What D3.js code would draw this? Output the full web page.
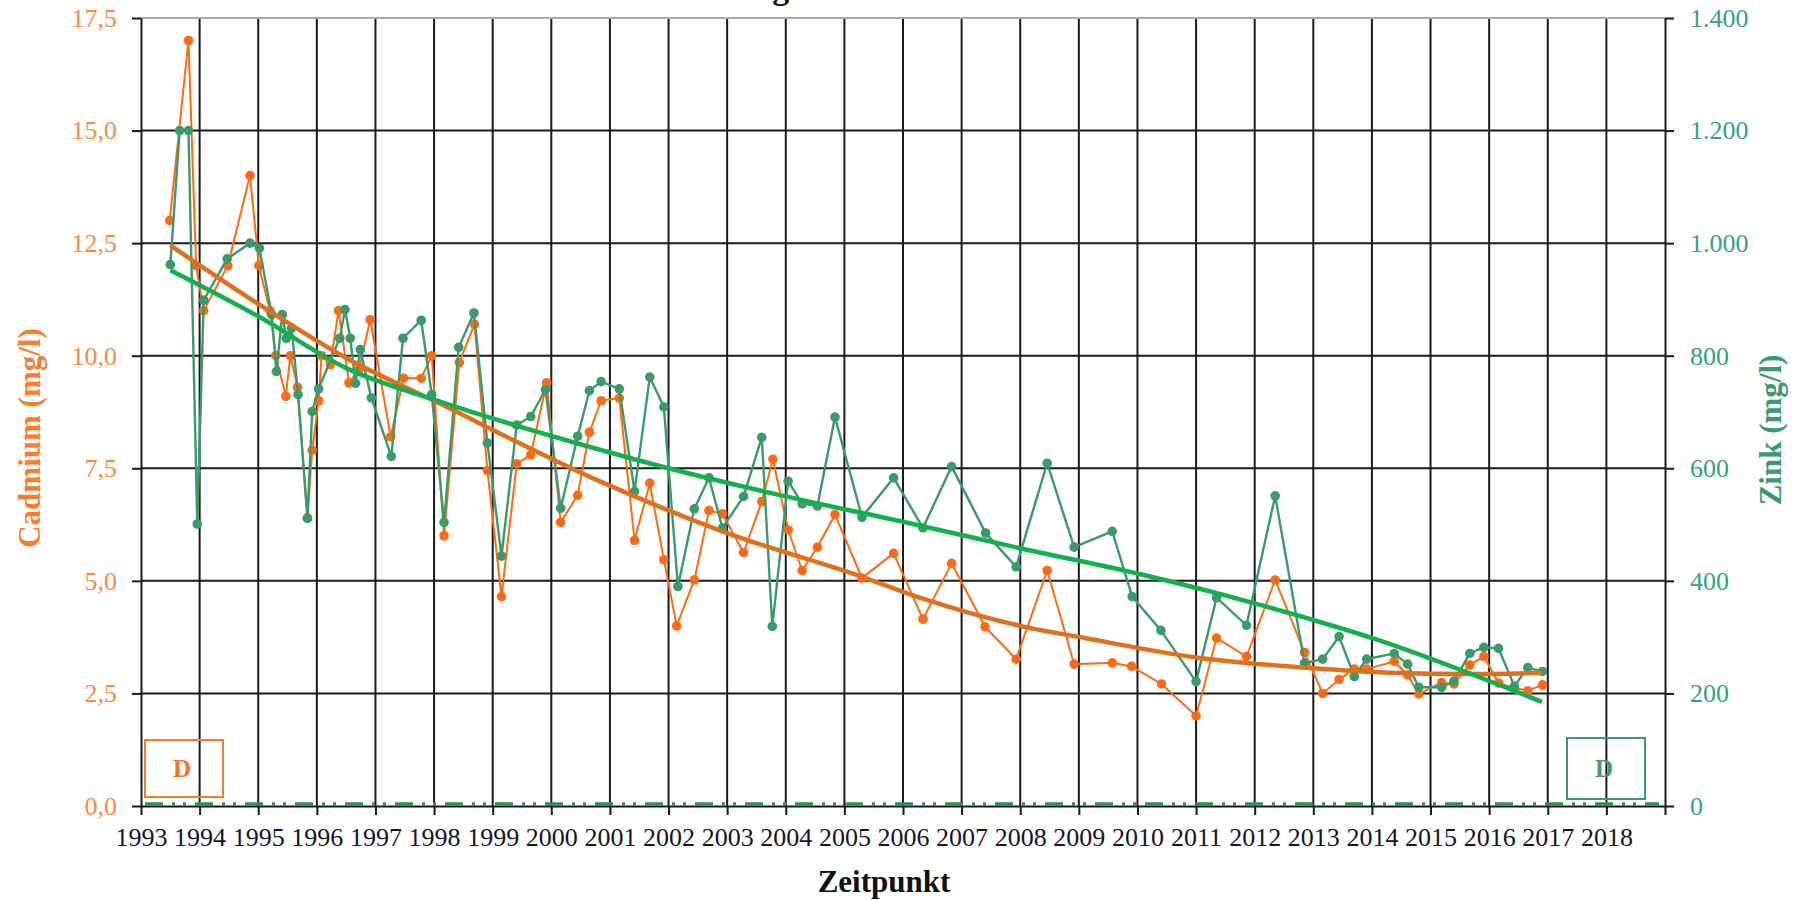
<!DOCTYPE html>
<html>
<head>
<meta charset="utf-8">
<title>Cadmium und Zink</title>
<style>
  body { margin: 0; background: #fff; }
  svg text { font-family: "Liberation Serif", "Times New Roman", serif; }
</style>
</head>
<body>
<div id="chart"></div>
<script src="https://d3js.org/d3.v7.min.js"></script>
<script>
// Cadmium (mg/l), Zeitpunkt als Dezimaljahr
var cdTime = [1993.49, 1993.81, 1993.94, 1994.07, 1994.48, 1994.86, 1995.01, 1995.20, 1995.30, 1995.47, 1995.55, 1995.67,
  1995.84, 1995.92, 1996.03, 1996.08, 1996.23, 1996.37, 1996.55, 1996.72, 1996.91, 1997.26, 1997.48, 1997.78, 1997.96,
  1998.17, 1998.43, 1998.69, 1998.91, 1999.15, 1999.41, 1999.65, 1999.92, 2000.16, 2000.45, 2000.65, 2000.85, 2001.16,
  2001.42, 2001.68, 2001.92, 2002.14, 2002.44, 2002.69, 2002.92, 2003.28, 2003.59, 2003.78, 2004.04, 2004.28, 2004.54,
  2004.84, 2005.30, 2005.84, 2006.34, 2006.83, 2007.40, 2007.93, 2008.46, 2008.92, 2009.57, 2009.90, 2010.41, 2011.00,
  2011.35, 2011.86, 2012.35, 2012.85, 2013.16, 2013.44, 2013.70, 2013.91, 2014.38, 2014.61, 2014.80, 2015.19, 2015.40,
  2015.67, 2015.91, 2016.16, 2016.43, 2016.66, 2016.91]
var cdValue = [13.0, 17.0, 12.0, 11.0, 12.0, 14.0, 12.0, 11.0, 10.0, 9.1, 10.0, 9.3,
  6.4, 7.9, 9.0, 10.0, 9.8, 11.0, 9.4, 9.7, 10.8, 8.2, 9.5, 9.5, 10.0,
  6.0, 9.85, 10.7, 7.45, 4.65, 7.6, 7.8, 9.4, 6.3, 6.9, 8.3, 9.0, 9.06,
  5.9, 7.17, 5.47, 4.0, 5.02, 6.56, 6.49, 5.63, 6.76, 7.7, 6.13, 5.23, 5.75,
  6.47, 5.06, 5.61, 4.15, 5.39, 3.98, 3.26, 5.23, 3.15, 3.18, 3.1, 2.71, 2.0,
  3.73, 3.32, 5.02, 3.41, 2.5, 2.81, 3.04, 3.04, 3.21, 2.91, 2.49, 2.74, 2.71,
  3.13, 3.32, 2.73, 2.62, 2.56, 2.69]

// Zink (mg/l)
var znTime = [1993.50, 1993.66, 1993.81, 1993.96, 1994.07, 1994.47, 1994.86, 1995.02, 1995.23, 1995.31, 1995.41, 1995.48,
  1995.57, 1995.68, 1995.84, 1995.92, 1996.03, 1996.39, 1996.48, 1996.57, 1996.66, 1996.74, 1996.93, 1997.27, 1997.47,
  1997.78, 1997.96, 1998.17, 1998.42, 1998.68, 1998.91, 1999.15, 1999.41, 1999.65, 1999.90, 2000.16, 2000.45, 2000.65,
  2000.85, 2001.16, 2001.42, 2001.68, 2001.92, 2002.16, 2002.44, 2002.69, 2002.92, 2003.28, 2003.59, 2003.77, 2004.04,
  2004.28, 2004.54, 2004.84, 2005.30, 2005.84, 2006.34, 2006.83, 2007.41, 2007.93, 2008.46, 2008.92, 2009.57, 2009.91,
  2010.40, 2011.00, 2011.35, 2011.86, 2012.35, 2012.85, 2013.16, 2013.44, 2013.70, 2013.91, 2014.38, 2014.61, 2014.80,
  2015.19, 2015.40, 2015.67, 2015.91, 2016.16, 2016.43, 2016.66, 2016.91]
var znValue = [962, 1200, 1200, 501, 899, 972, 1000, 991, 873, 772, 873, 831,
  849, 731, 511, 701, 741, 831, 882, 831, 751, 811, 725, 621, 831,
  863, 731, 504, 815, 876, 645, 444, 677, 692, 740, 529, 657, 738,
  754, 741, 559, 762, 709, 390, 528, 583, 494, 550, 655, 319, 577,
  537, 533, 691, 513, 583, 494, 603, 485, 425, 609, 460, 488, 372,
  312, 221, 370, 321, 551, 254, 261, 301, 230, 261, 271, 252, 211,
  211, 222, 271, 282, 280, 213, 246, 239]

// Trendlinien
var cdTrendTime = [1993.5, 1995.0, 1996.5, 1998.0, 2000.83, 2003.0, 2005.3, 2006.3, 2008.0, 2009.1, 2011.0, 2013.0, 2014.33, 2015.63, 2016.9]
var cdTrendValue = [12.45, 11.15, 9.95, 9.0, 7.21, 6.06, 5.09, 4.62, 4.0, 3.73, 3.30, 3.06, 2.96, 2.93, 2.96]
var znTrendTime = [1993.5, 1995.0, 1996.5, 1998.0, 2000.83, 2002.0, 2004.0, 2006.0, 2008.0, 2010.0, 2012.0, 2014.1, 2016.9]
var znTrendValue = [952, 870, 778, 722, 633, 600, 550, 505, 458, 413, 360, 295, 185]

var years = d3.range(1993, 2019)
var cdTicks = [0, 2.5, 5, 7.5, 10, 12.5, 15, 17.5]
var znTicks = [0, 200, 400, 600, 800, 1000, 1200, 1400]

var W = 1800, H = 900
var mLeft = 141, mRight = 1665, mTop = 18, mBottom = 806

var orange = "#ff6a13", orangeTrend = "#e0701c", orangeText = "#ff8a3d"
var green = "#3b9a6b", greenTrend = "#12b04e", greenText = "#36a088"

var de = d3.formatLocale({decimal: ",", thousands: ".", grouping: [3], currency: ["", " €"]})

var svg = d3.select("#chart").append("svg")
  .attr("width", W)
  .attr("height", H)

var x = d3.scaleLinear().domain([1993, 2019]).range([mLeft, mRight])
var yCd = d3.scaleLinear().domain([0, 17.5]).range([mBottom, mTop])
var yZn = d3.scaleLinear().domain([0, 1400]).range([mBottom, mTop])

// Titel (oben abgeschnitten, nur Unterlänge sichtbar)
svg.append("text")
  .attr("x", 604)
  .attr("y", -1.5)
  .style("font-size", "34px")
  .style("font-weight", "bold")
  .attr("fill", "#111")
  .text("Entwicklung der Schwermetallkonzentrationen")

// Gitter
svg.append("g")
  .selectAll("line")
  .data(years.slice(1))
  .join("line")
  .attr("x1", d => x(d)).attr("x2", d => x(d))
  .attr("y1", mTop).attr("y2", mBottom)
  .attr("stroke", "#1a1a1a")
  .attr("stroke-width", 2)

svg.append("g")
  .selectAll("line")
  .data(cdTicks.slice(1, -1))
  .join("line")
  .attr("x1", mLeft).attr("x2", mRight)
  .attr("y1", d => yCd(d)).attr("y2", d => yCd(d))
  .attr("stroke", "#1a1a1a")
  .attr("stroke-width", 2)

svg.append("line")
  .attr("x1", mLeft).attr("x2", mRight)
  .attr("y1", mTop).attr("y2", mTop)
  .attr("stroke", "#aaa")
  .attr("stroke-width", 2)

// Achsen
var xAxis = svg.append("g")
  .attr("transform", "translate(0," + mBottom + ")")
  .call(d3.axisBottom(x).tickValues(years.concat([2019])).tickSize(9).tickSizeOuter(0).tickPadding(13)
    .tickFormat(d => d < 2019 ? d : ""))

var yAxisL = svg.append("g")
  .attr("transform", "translate(" + mLeft + ",0)")
  .call(d3.axisLeft(yCd).tickValues(cdTicks).tickSize(9).tickSizeOuter(0).tickPadding(15)
    .tickFormat(de.format(".1f")))

var yAxisR = svg.append("g")
  .attr("transform", "translate(" + mRight + ",0)")
  .call(d3.axisRight(yZn).tickValues(znTicks).tickSize(9).tickSizeOuter(0).tickPadding(16)
    .tickFormat(de.format(",d")))

svg.selectAll(".domain, .tick line")
  .attr("stroke", "#1a1a1a")
  .attr("stroke-width", 2)

xAxis.selectAll("text").attr("fill", "#15152a").style("font-size", "26px")
yAxisL.selectAll("text").attr("fill", orangeText).style("font-size", "26px")
yAxisR.selectAll("text").attr("fill", greenText).style("font-size", "26px")
svg.selectAll(".tick text").style("font-family", "'Liberation Serif', serif")

// Nulllinie strichpunktiert
svg.append("line")
  .attr("x1", mLeft + 4).attr("x2", mRight - 6)
  .attr("y1", mBottom - 2).attr("y2", mBottom - 2)
  .attr("stroke", "#2f8f55")
  .attr("stroke-width", 3.5)
  .attr("stroke-dasharray", "18,9,3,8,3,9")

// Achsentitel
svg.append("text")
  .attr("transform", "translate(40,438) rotate(-90)")
  .attr("text-anchor", "middle")
  .style("font-size", "31px")
  .style("font-weight", "bold")
  .attr("fill", "#ff7a2a")
  .text("Cadmium (mg/l)")

svg.append("text")
  .attr("transform", "translate(1781,430) rotate(-90)")
  .attr("text-anchor", "middle")
  .style("font-size", "31px")
  .style("font-weight", "bold")
  .attr("fill", "#3a9a70")
  .text("Zink (mg/l)")

svg.append("text")
  .attr("x", 884)
  .attr("y", 892)
  .attr("text-anchor", "middle")
  .style("font-size", "31px")
  .style("font-weight", "bold")
  .attr("fill", "#111")
  .text("Zeitpunkt")

// Kennzeichnung D
function dBox(x0, y0, w, h, col, txtCol) {
  svg.append("rect")
    .attr("x", x0).attr("y", y0).attr("width", w).attr("height", h)
    .attr("fill", "none")
    .attr("stroke", col)
    .attr("stroke-width", 2)
  svg.append("text")
    .attr("x", x0 + w / 2 - 2).attr("y", y0 + h / 2 + 8)
    .attr("text-anchor", "middle")
    .style("font-size", "25px")
    .style("font-weight", "bold")
    .attr("fill", txtCol)
    .text("D")
}
dBox(145, 740, 78, 57, "#f08030", "#ff7020")
dBox(1567, 738, 78, 61, "#3a9a6a", "#4a9a60")

// Messreihen
var cdData = cdTime.map((t, i) => ({t: t, v: cdValue[i]}))
var znData = znTime.map((t, i) => ({t: t, v: znValue[i]}))

var cdLine = d3.line().x(d => x(d.t)).y(d => yCd(d.v))
var znLine = d3.line().x(d => x(d.t)).y(d => yZn(d.v))

svg.append("path")
  .attr("d", cdLine(cdData))
  .attr("fill", "none")
  .attr("stroke", orange)
  .attr("stroke-width", 2)

svg.append("g")
  .selectAll("circle")
  .data(cdData)
  .join("circle")
  .attr("cx", d => x(d.t))
  .attr("cy", d => yCd(d.v))
  .attr("r", 4.8)
  .attr("fill", orange)

svg.append("path")
  .attr("d", znLine(znData))
  .attr("fill", "none")
  .attr("stroke", green)
  .attr("stroke-width", 2.4)

svg.append("g")
  .selectAll("circle")
  .data(znData)
  .join("circle")
  .attr("cx", d => x(d.t))
  .attr("cy", d => yZn(d.v))
  .attr("r", 4.8)
  .attr("fill", green)

// Trends
var cdTrend = cdTrendTime.map((t, i) => ({t: t, v: cdTrendValue[i]}))
var znTrend = znTrendTime.map((t, i) => ({t: t, v: znTrendValue[i]}))

svg.append("path")
  .attr("d", cdLine.curve(d3.curveMonotoneX)(cdTrend))
  .attr("fill", "none")
  .attr("stroke", orangeTrend)
  .attr("stroke-width", 4.5)

svg.append("path")
  .attr("d", znLine.curve(d3.curveMonotoneX)(znTrend))
  .attr("fill", "none")
  .attr("stroke", greenTrend)
  .attr("stroke-width", 4.5)
</script>
</body>
</html>
